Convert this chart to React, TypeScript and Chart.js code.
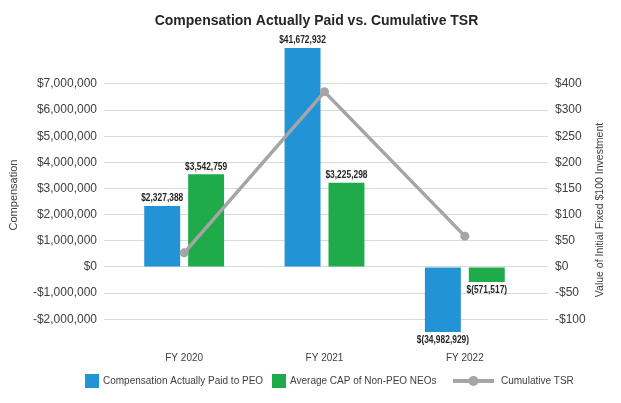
import React, { useEffect, useRef } from "react";
import { Chart, registerables } from "chart.js";

Chart.register(...registerables);

const categories = ["FY 2020", "FY 2021", "FY 2022"];
const peoCap = [2327388, 41672932, -34982929];
const nonPeoCap = [3542759, 3225298, -571517];
const cumulativeTsr = [27, 335, 59];

const leftTicks = [-2000000, -1000000, 0, 1000000, 2000000, 3000000, 4000000, 5000000, 6000000, 7000000];
const rightTicks = [-100, -50, 0, 50, 100, 150, 200, 250, 300, 350];
const rightTickLabels = ["-$100", "-$50", "$0", "$50", "$100", "$150", "$200", "$250", "$300", "$400"];
const leftRange = [-2485000, 8372000];
const rightRange = [-124.25, 418.6];

const titleText = "Compensation Actually Paid vs. Cumulative TSR";
const leftTitle = "Compensation";
const rightTitle = "Value of Initial Fixed $100 Investment";
const seriesNames = ["Compensation Actually Paid to PEO", "Average CAP of Non-PEO NEOs", "Cumulative TSR"];

const BLUE = "#2293d5";
const GREEN = "#1fab4a";
const GRAY = "#a5a5a5";
const TEXT = "#404040";
const FONT = '"Liberation Sans", Arial, sans-serif';

const fmtMoney = (v: number) => {
  const s = Math.abs(v).toLocaleString("en-US");
  return v < 0 ? "-$" + s : "$" + s;
};
const fmtLabel = (v: number) => {
  const s = Math.abs(v).toLocaleString("en-US");
  return v < 0 ? "$(" + s + ")" : "$" + s;
};

const overlay = {
  id: "overlay",
  afterDraw(chart: any) {
    const ctx = chart.ctx as CanvasRenderingContext2D;
    const area = chart.chartArea;
    ctx.save();
    // title
    ctx.fillStyle = "#262626";
    ctx.font = "bold 14px " + FONT;
    ctx.textAlign = "center";
    ctx.textBaseline = "middle";
    ctx.fillText(titleText, 316.5, 21);

    // axis titles
    ctx.fillStyle = TEXT;
    ctx.font = "11px " + FONT;
    ctx.save();
    ctx.translate(14, 195);
    ctx.rotate(-Math.PI / 2);
    ctx.fillText(leftTitle, 0, 0);
    ctx.restore();
    ctx.font = "10.5px " + FONT;
    ctx.save();
    ctx.translate(600, 210);
    ctx.rotate(-Math.PI / 2);
    ctx.fillText(rightTitle, 0, 0);
    ctx.restore();

    // data labels
    ctx.fillStyle = "#262626";
    ctx.font = "bold 10px " + FONT;
    [0, 1].forEach((di) => {
      const ds = chart.data.datasets[di];
      const meta = chart.getDatasetMeta(di);
      meta.data.forEach((el: any, i: number) => {
        const v = ds.data[i] as number;
        let y: number;
        if (v >= 0) {
          y = Math.max(el.y, area.top) - 7.5;
        } else {
          y = Math.min(el.y, area.bottom) + 8;
        }
        ctx.save();
        ctx.translate(el.x, y);
        ctx.scale(0.84, 1);
        ctx.textAlign = "center";
        ctx.textBaseline = "middle";
        ctx.fillText(fmtLabel(v), 0, 0);
        ctx.restore();
      });
    });

    // legend
    const ly = 381;
    ctx.font = "10px " + FONT;
    ctx.textAlign = "left";
    ctx.textBaseline = "middle";
    ctx.fillStyle = BLUE;
    ctx.fillRect(85, ly - 7, 14, 14);
    ctx.fillStyle = TEXT;
    ctx.fillText(seriesNames[0], 103, ly);
    ctx.fillStyle = GREEN;
    ctx.fillRect(272, ly - 7, 14, 14);
    ctx.fillStyle = TEXT;
    ctx.fillText(seriesNames[1], 290, ly);
    ctx.strokeStyle = GRAY;
    ctx.lineWidth = 4;
    ctx.beginPath();
    ctx.moveTo(453, ly);
    ctx.lineTo(494, ly);
    ctx.stroke();
    ctx.fillStyle = GRAY;
    ctx.beginPath();
    ctx.arc(473.5, ly, 5, 0, Math.PI * 2);
    ctx.fill();
    ctx.fillStyle = TEXT;
    ctx.fillText(seriesNames[2], 501, ly);
    ctx.restore();
  },
};

export default function App() {
  const ref = useRef<HTMLCanvasElement | null>(null);
  useEffect(() => {
    document.body.style.margin = "0";
    if (!ref.current) return;
    Chart.defaults.font.family = FONT;
    const chart = new Chart(ref.current, {
      type: "bar",
      data: {
        labels: categories,
        datasets: [
          {
            type: "bar",
            label: seriesNames[0],
            data: peoCap,
            backgroundColor: BLUE,
            yAxisID: "y",
            order: 1,
            barPercentage: 0.818,
            categoryPercentage: 0.626,
          },
          {
            type: "bar",
            label: seriesNames[1],
            data: nonPeoCap,
            backgroundColor: GREEN,
            yAxisID: "y",
            order: 1,
            barPercentage: 0.818,
            categoryPercentage: 0.626,
          },
          {
            type: "line",
            label: seriesNames[2],
            data: cumulativeTsr,
            borderColor: GRAY,
            backgroundColor: GRAY,
            borderWidth: 3.5,
            pointRadius: 4.5,
            pointBackgroundColor: GRAY,
            pointBorderWidth: 0,
            yAxisID: "y1",
            order: 0,
            tension: 0,
          } as any,
        ],
      },
      options: {
        responsive: false,
        animation: false,
        events: [],
        layout: { padding: { top: 48, left: 0, right: 0, bottom: 0 } },
        plugins: {
          legend: { display: false },
          title: { display: false },
          tooltip: { enabled: false },
        },
        scales: {
          x: {
            grid: { display: false, drawTicks: false },
            border: { display: false },
            ticks: { font: { size: 10 }, color: TEXT, padding: 20 },
            afterFit: (s: any) => {
              s.height = 71;
            },
          },
          y: {
            position: "left",
            min: leftRange[0],
            max: leftRange[1],
            afterBuildTicks: (s: any) => {
              s.ticks = leftTicks.map((v) => ({ value: v }));
            },
            ticks: {
              callback: (v: any) => fmtMoney(Number(v)),
              font: { size: 12 },
              color: TEXT,
              padding: 7,
              autoSkip: false,
            },
            grid: { color: "#d9d9d9", tickLength: 10, drawTicks: true },
            border: { display: false },
            afterFit: (s: any) => {
              s.width = 114;
            },
          },
          y1: {
            position: "right",
            min: rightRange[0],
            max: rightRange[1],
            afterBuildTicks: (s: any) => {
              s.ticks = rightTicks.map((v) => ({ value: v }));
            },
            ticks: {
              callback: (_v: any, i: number) => rightTickLabels[i],
              font: { size: 12 },
              color: TEXT,
              padding: 7,
              autoSkip: false,
            },
            grid: { color: "#d9d9d9", tickLength: 13, drawTicks: true, drawOnChartArea: false },
            border: { display: false },
            afterFit: (s: any) => {
              s.width = 86;
            },
          },
        },
      } as any,
      plugins: [overlay],
    });
    return () => chart.destroy();
  }, []);
  return (
    <div style={{ width: 621, height: 403 }}>
      <canvas ref={ref} width={621} height={403} />
    </div>
  );
}
